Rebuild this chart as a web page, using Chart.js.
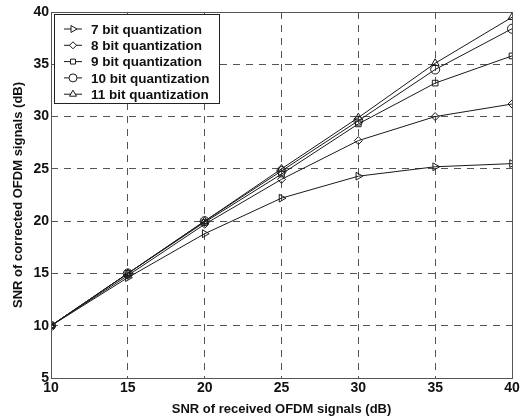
<!DOCTYPE html>
<html>
<head>
<meta charset="utf-8">
<script src="https://cdn.jsdelivr.net/npm/chart.js@4/dist/chart.umd.min.js"></script>
<style>
  html, body { margin: 0; padding: 0; background: #fff; }
  #wrap { width: 525px; height: 417px; }
</style>
</head>
<body>
<div id="wrap"><canvas id="snrChart"></canvas></div>
<script>
const inputSnr = [10, 15, 20, 25, 30, 35, 40];
const bit7 = [10, 14.6, 18.8, 22.2, 24.3, 25.2, 25.5];
const bit8 = [10, 14.8, 19.7, 24.0, 27.7, 30.0, 31.2];
const bit9 = [10, 15.0, 19.9, 24.5, 29.3, 33.2, 35.8];
const bit10 = [10, 15.0, 20.0, 24.8, 29.6, 34.5, 38.4];
const bit11 = [10, 15.0, 20.0, 25.0, 29.9, 35.1, 39.5];

const FONT = "'Liberation Sans', Arial, sans-serif";

function series(label, values, pointStyle, rotation, radius) {
  return {
    label,
    data: values.map((v, i) => ({ x: inputSnr[i], y: v })),
    borderColor: "#1a1a1a",
    borderWidth: 1,
    pointStyle,
    rotation,
    pointRadius: radius,
    pointBorderWidth: 1,
    pointBorderColor: "#1a1a1a",
    pointBackgroundColor: "rgba(255,255,255,0)",
    tension: 0,
  };
}

const datasets = [
  series("7 bit quantization", bit7, "triangle", 90, 4.5),
  series("8 bit quantization", bit8, "rectRot", 0, 4),
  series("9 bit quantization", bit9, "rect", 0, 4),
  series("10 bit quantization", bit10, "circle", 0, 4.5),
  series("11 bit quantization", bit11, "triangle", 0, 4.5),
];

// legend box drawn inside the plot, top-left, like the original figure
const boxLegend = {
  id: "boxLegend",
  afterDraw(chart) {
    const { ctx, chartArea } = chart;
    const x0 = chartArea.left + 3;
    const y0 = chartArea.top + 2;
    const w = 165;
    const h = 89;
    ctx.save();
    ctx.fillStyle = "#fff";
    ctx.fillRect(x0, y0, w, h);
    ctx.strokeStyle = "#222";
    ctx.lineWidth = 1;
    ctx.strokeRect(x0 + 0.5, y0 + 0.5, w, h);
    ctx.font = "bold 13.5px " + FONT;
    ctx.textBaseline = "middle";
    chart.data.datasets.forEach((ds, i) => {
      const cy = y0 + 15 + i * 16.3;
      ctx.strokeStyle = ds.borderColor;
      ctx.beginPath();
      ctx.moveTo(x0 + 10, cy);
      ctx.lineTo(x0 + 28, cy);
      ctx.stroke();
      ctx.fillStyle = "#fff";
      Chart.helpers.drawPoint(ctx, {
        pointStyle: ds.pointStyle,
        rotation: ds.rotation,
        radius: ds.pointRadius - 0.5,
        borderWidth: 1,
      }, x0 + 19, cy);
      ctx.fillStyle = "#111";
      ctx.fillText(ds.label, x0 + 37, cy + 1);
    });
    ctx.restore();
  },
};

// solid frame around the plot area
const frame = {
  id: "frame",
  afterDatasetsDraw(chart) {
    const { ctx, chartArea: a } = chart;
    ctx.save();
    ctx.strokeStyle = "#555";
    ctx.lineWidth = 1;
    ctx.strokeRect(a.left + 0.5, a.top + 0.5, a.right - a.left, a.bottom - a.top);
    ctx.restore();
  },
};

new Chart(document.getElementById("snrChart"), {
  type: "line",
  data: { datasets },
  options: {
    animation: false,
    responsive: true,
    maintainAspectRatio: false,
    layout: { padding: { top: 12, right: 13, left: 11, bottom: 0 } },
    scales: {
      x: {
        type: "linear",
        min: 10,
        max: 40,
        afterFit: (s) => { s.height = 39; },
        ticks: {
          stepSize: 5,
          color: "#111",
          padding: 2,
          font: { family: FONT, size: 14, weight: "bold" },
        },
        grid: { color: "#555", lineWidth: 1, drawTicks: false },
        border: { dash: [7, 6], display: false },
        title: {
          display: true,
          text: "SNR of received OFDM signals (dB)",
          color: "#111",
          padding: { top: 0, bottom: 0 },
          font: { family: FONT, size: 13, weight: "bold" },
        },
      },
      y: {
        min: 5,
        max: 40,
        afterFit: (s) => { s.width = 40; },
        ticks: {
          stepSize: 5,
          color: "#111",
          padding: 2,
          font: { family: FONT, size: 14, weight: "bold" },
        },
        grid: { color: "#555", lineWidth: 1, drawTicks: false },
        border: { dash: [7, 6], display: false },
        title: {
          display: true,
          text: "SNR of corrected OFDM signals (dB)",
          color: "#111",
          padding: { top: 0, bottom: 0 },
          font: { family: FONT, size: 13, weight: "bold" },
        },
      },
    },
    plugins: {
      legend: { display: false },
      tooltip: { enabled: false },
    },
  },
  plugins: [frame, boxLegend],
});
</script>
</body>
</html>
